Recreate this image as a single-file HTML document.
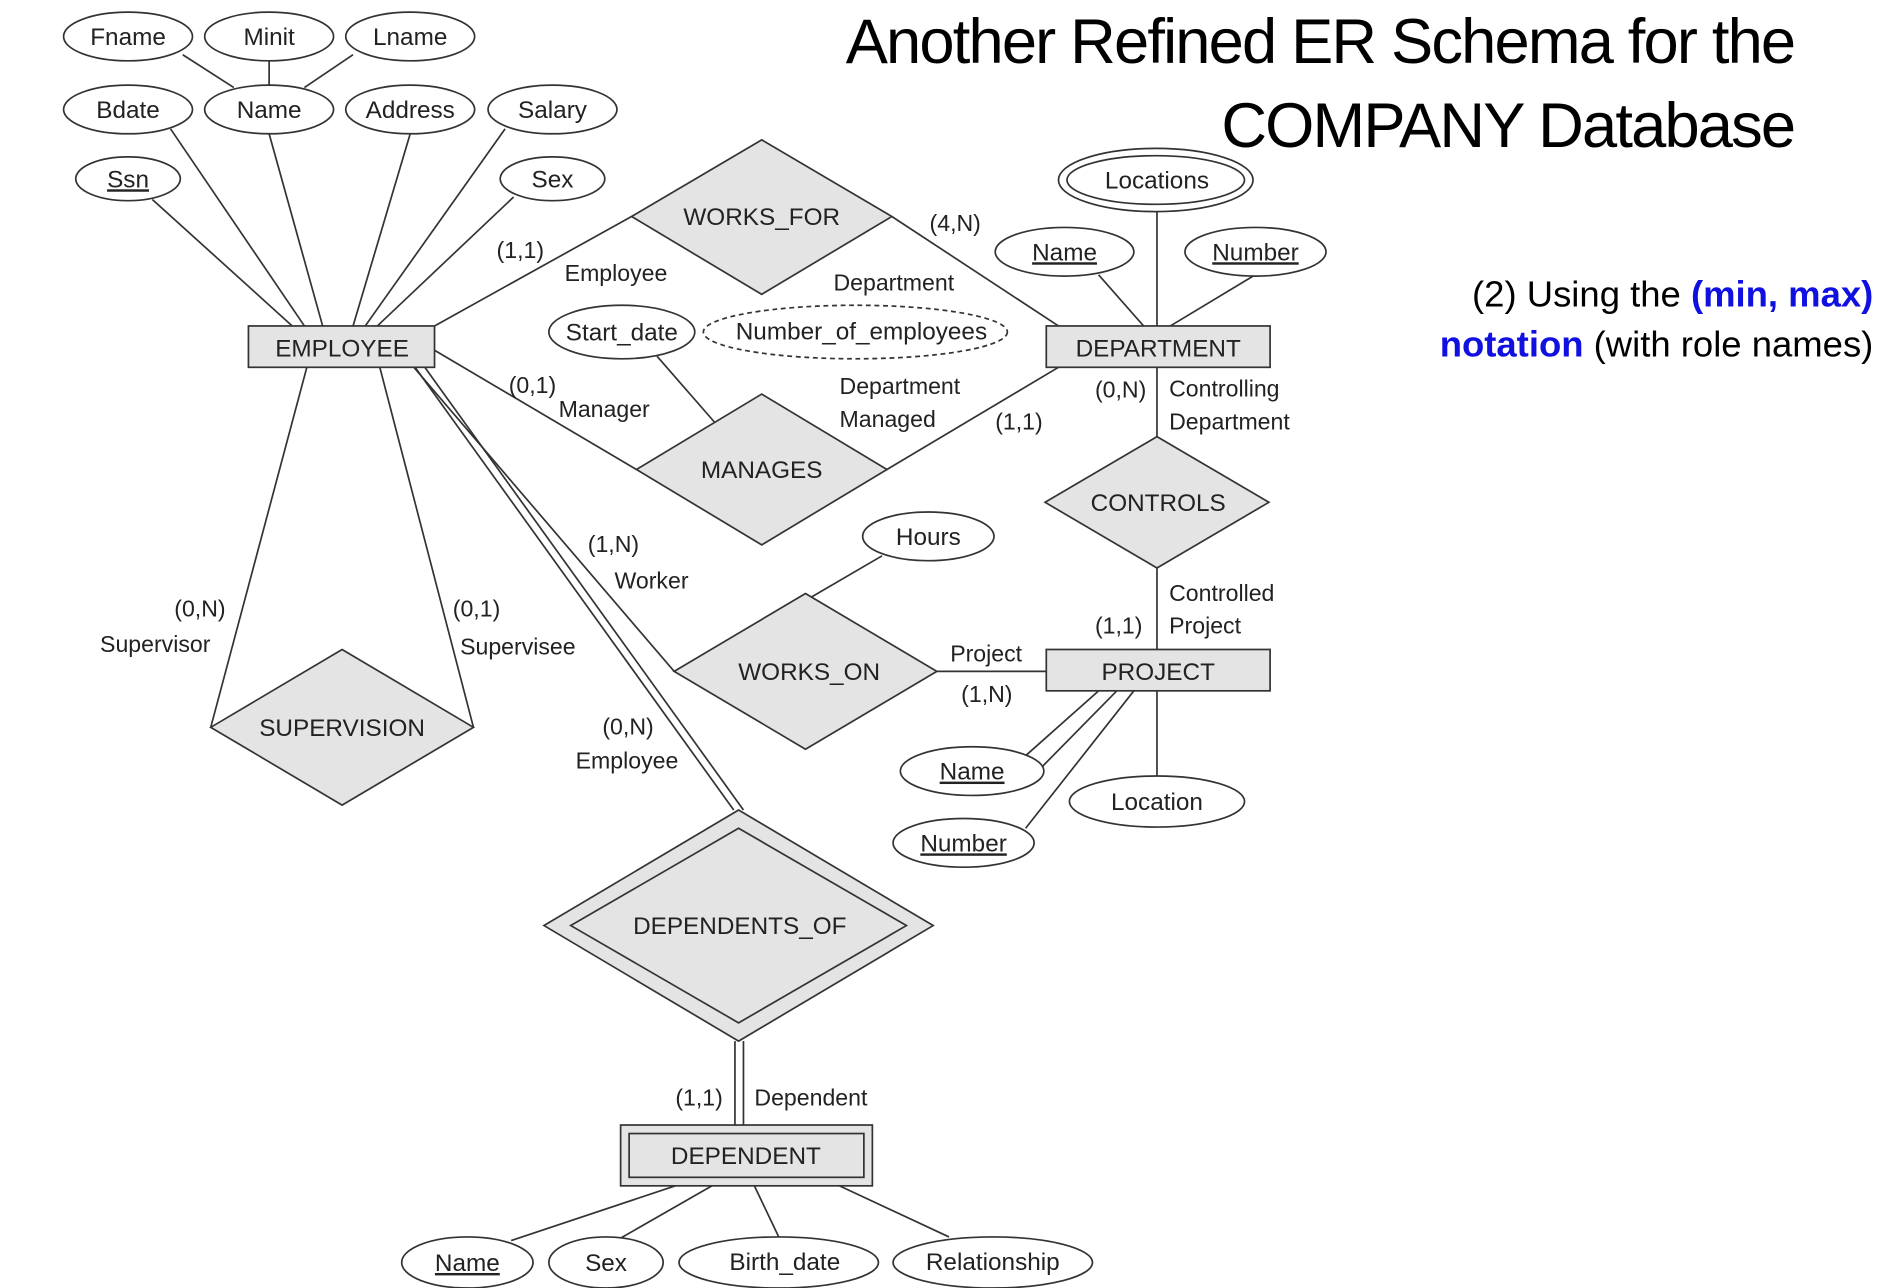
<!DOCTYPE html>
<html><head><meta charset="utf-8"><style>
html,body{margin:0;padding:0;background:#fff;width:1898px;height:1288px;overflow:hidden}
svg{display:block}
text{font-family:"Liberation Sans",Arial,sans-serif;fill:#222}
.l{stroke:#333;stroke-width:1.4;fill:none}
.e{stroke:#333;stroke-width:1.4;fill:#fff}
.g{stroke:#333;stroke-width:1.4;fill:#e4e4e4}
.t{font-size:20px;text-anchor:middle}
.s{font-size:19px}
</style></head><body>
<svg width="1898" height="1288" viewBox="0 0 1560 1059" xmlns="http://www.w3.org/2000/svg">
<!-- lines -->
<g class="l">
<line x1="150" y1="45" x2="192" y2="72"/><line x1="221" y1="50" x2="221" y2="70"/><line x1="290" y1="45" x2="250" y2="72"/>
<line x1="140" y1="106" x2="250" y2="268"/><line x1="221" y1="110" x2="265" y2="268"/><line x1="337" y1="110" x2="290" y2="268"/>
<line x1="415" y1="106" x2="300" y2="268"/><line x1="125" y1="164" x2="240" y2="268"/><line x1="422" y1="162" x2="310" y2="268"/>
<line x1="357" y1="268" x2="519" y2="178"/><line x1="733" y1="178" x2="870" y2="268"/>
<line x1="357" y1="288" x2="523" y2="386"/><line x1="729" y1="386" x2="870" y2="302"/>
<line x1="540" y1="293" x2="588" y2="348"/>
<line x1="951" y1="174" x2="951" y2="268"/><line x1="903" y1="226" x2="940" y2="268"/><line x1="1030" y1="227" x2="962" y2="268"/>
<line x1="951" y1="302" x2="951" y2="359"/><line x1="951" y1="467" x2="951" y2="534"/>
<line x1="340" y1="302" x2="554" y2="552"/><line x1="770" y1="552" x2="860" y2="552"/><line x1="725" y1="457" x2="665" y2="492"/>
<line x1="341" y1="302" x2="603" y2="666"/><line x1="349" y1="302" x2="611" y2="666"/>
<line x1="252" y1="302" x2="173" y2="598"/><line x1="312" y1="302" x2="389" y2="598"/>
<line x1="604" y1="856" x2="604" y2="925"/><line x1="611" y1="856" x2="611" y2="925"/>
<line x1="840" y1="624" x2="903" y2="568"/><line x1="843" y1="681" x2="932" y2="568"/><line x1="855" y1="632" x2="918" y2="568"/><line x1="951" y1="638" x2="951" y2="568"/>
<line x1="420" y1="1020" x2="555" y2="975"/><line x1="510" y1="1018" x2="585" y2="975"/><line x1="640" y1="1017" x2="620" y2="975"/><line x1="780" y1="1017" x2="690" y2="975"/>
</g>
<!-- ellipses -->
<g class="e">
<ellipse cx="105" cy="30" rx="53" ry="20"/><ellipse cx="221" cy="30" rx="53" ry="20"/><ellipse cx="337" cy="30" rx="53" ry="20"/>
<ellipse cx="105" cy="90" rx="53" ry="20"/><ellipse cx="221" cy="90" rx="53" ry="20"/><ellipse cx="337" cy="90" rx="53" ry="20"/><ellipse cx="454" cy="90" rx="53" ry="20"/>
<ellipse cx="105" cy="147" rx="43" ry="18"/><ellipse cx="454" cy="147" rx="43" ry="18"/>
<ellipse cx="950" cy="148" rx="80" ry="26"/><ellipse cx="950" cy="148" rx="73" ry="20"/>
<ellipse cx="875" cy="207" rx="57" ry="20"/><ellipse cx="1032" cy="207" rx="58" ry="20"/>
<ellipse cx="511" cy="273" rx="60" ry="22"/>
<ellipse cx="703" cy="273" rx="125" ry="22" stroke-dasharray="4,3"/>
<ellipse cx="763" cy="441" rx="54" ry="20"/>
<ellipse cx="799" cy="634" rx="59" ry="20"/><ellipse cx="951" cy="659" rx="72" ry="21"/><ellipse cx="792" cy="693" rx="58" ry="20"/>
<ellipse cx="384" cy="1038" rx="54" ry="21"/><ellipse cx="498" cy="1038" rx="47" ry="21"/><ellipse cx="640" cy="1038" rx="82" ry="21"/><ellipse cx="816" cy="1038" rx="82" ry="21"/>
</g>
<!-- entities / relationships -->
<g class="g">
<rect x="204" y="268" width="153" height="34"/>
<rect x="860" y="268" width="184" height="34"/>
<rect x="860" y="534" width="184" height="34"/>
<rect x="510" y="925" width="207" height="50"/>
<polygon points="626,115 733,178 626,242 519,178"/>
<polygon points="626,324 729,386 626,448 523,386"/>
<polygon points="951,359 1043,413 951,467 859,413"/>
<polygon points="662,488 770,552 662,616 554,552"/>
<polygon points="281,534 389,598 281,662 173,598"/>
<polygon points="607,666 767,761 607,856 447,761"/>
</g>
<g class="e" style="fill:#e4e4e4">
<rect x="517" y="932" width="193" height="36"/>
<polygon points="607,681 745,761 607,841 469,761"/>
</g>
<!-- labels in shapes -->
<g class="t">
<text x="105" y="37">Fname</text><text x="221" y="37">Minit</text><text x="337" y="37">Lname</text>
<text x="105" y="97">Bdate</text><text x="221" y="97">Name</text><text x="337" y="97">Address</text><text x="454" y="97">Salary</text>
<text x="105" y="154" text-decoration="underline">Ssn</text><text x="454" y="154">Sex</text>
<text x="951" y="155">Locations</text>
<text x="875" y="214" text-decoration="underline">Name</text><text x="1032" y="214" text-decoration="underline">Number</text>
<text x="511" y="280">Start_date</text><text x="708" y="279">Number_of_employees</text>
<text x="763" y="448">Hours</text>
<text x="799" y="641" text-decoration="underline">Name</text><text x="951" y="666">Location</text><text x="792" y="700" text-decoration="underline">Number</text>
<text x="384" y="1045" text-decoration="underline">Name</text><text x="498" y="1045">Sex</text><text x="645" y="1044">Birth_date</text><text x="816" y="1044">Relationship</text>
<text x="281" y="293">EMPLOYEE</text><text x="952" y="293">DEPARTMENT</text><text x="952" y="559">PROJECT</text><text x="613" y="957">DEPENDENT</text>
<text x="626" y="185">WORKS_FOR</text><text x="626" y="393">MANAGES</text><text x="952" y="420">CONTROLS</text>
<text x="665" y="559">WORKS_ON</text><text x="281" y="605">SUPERVISION</text><text x="608" y="768">DEPENDENTS_OF</text>
</g>
<!-- connector labels -->
<g class="s">
<text x="408" y="212">(1,1)</text><text x="464" y="231">Employee</text>
<text x="764" y="190">(4,N)</text><text x="685" y="239">Department</text>
<text x="418" y="323">(0,1)</text><text x="459" y="343">Manager</text>
<text x="690" y="324">Department</text><text x="690" y="351">Managed</text><text x="818" y="353">(1,1)</text>
<text x="900" y="327">(0,N)</text><text x="961" y="326">Controlling</text><text x="961" y="353">Department</text>
<text x="961" y="494">Controlled</text><text x="961" y="521">Project</text><text x="900" y="521">(1,1)</text>
<text x="483" y="454">(1,N)</text><text x="505" y="484">Worker</text>
<text x="781" y="544">Project</text><text x="790" y="577">(1,N)</text>
<text x="143" y="507">(0,N)</text><text x="82" y="536">Supervisor</text>
<text x="372" y="507">(0,1)</text><text x="378" y="538">Supervisee</text>
<text x="495" y="604">(0,N)</text><text x="473" y="632">Employee</text>
<text x="555" y="909">(1,1)</text><text x="620" y="909">Dependent</text>
</g>
<!-- titles -->
<text x="1475" y="52" style="font-size:52px;text-anchor:end;fill:#000;letter-spacing:-1.5px">Another Refined ER Schema for the</text>
<text x="1475" y="121" style="font-size:52px;text-anchor:end;fill:#000;letter-spacing:-1.5px">COMPANY Database</text>
<text x="1540" y="252" style="font-size:30px;text-anchor:end;fill:#000">(2) Using the <tspan style="fill:#1010e0;font-weight:bold">(min, max)</tspan></text>
<text x="1540" y="293" style="font-size:30px;text-anchor:end;fill:#000"><tspan style="fill:#1010e0;font-weight:bold">notation</tspan> (with role names)</text>
</svg>
</body></html>
